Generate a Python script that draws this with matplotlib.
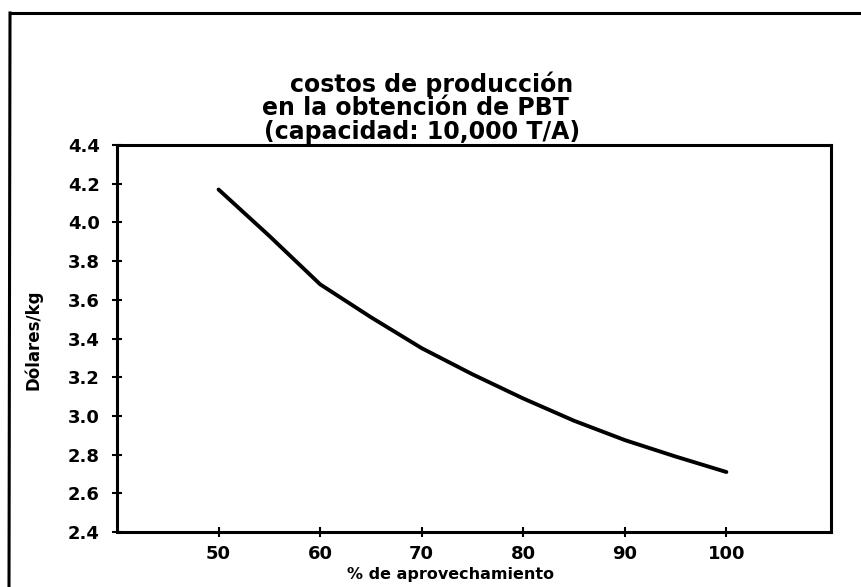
import matplotlib
matplotlib.use("Agg")
import matplotlib.pyplot as plt
from matplotlib.lines import Line2D

# Production cost vs. utilisation
aprovechamiento = [50, 55, 60, 65, 70, 75, 80, 85, 90, 95, 100]
costo = [4.17, 3.93, 3.68, 3.51, 3.35, 3.215, 3.09, 2.975, 2.875, 2.79, 2.71]

x_ticks = [50, 60, 70, 80, 90, 100]
y_ticks = [2.4, 2.6, 2.8, 3.0, 3.2, 3.4, 3.6, 3.8, 4.0, 4.2, 4.4]

titulo = ["costos de producción", "en la obtención de PBT", "(capacidad: 10,000 T/A)"]
etiqueta_x = "% de aprovechamiento"
etiqueta_y = "Dólares/kg"

plt.rcParams["font.family"] = ["DejaVu Sans"]
plt.rcParams["font.weight"] = "bold"

W, H = 861, 587
fig = plt.figure(figsize=(W / 100, H / 100), dpi=100)
fig.patch.set_facecolor("white")

# plot area in pixel terms
left, right, top, bottom = 117, 831, 145, 532
ax = fig.add_axes([left / W, 1 - bottom / H, (right - left) / W, (bottom - top) / H])

ax.plot(aprovechamiento, costo, color="black", linewidth=2.8,
        solid_capstyle="round", solid_joinstyle="round")

ax.set_xlim(40, 110.3)
ax.set_ylim(2.4, 4.4)
ax.set_xticks(x_ticks)
ax.set_yticks(y_ticks)
ax.set_xticklabels([str(v) for v in x_ticks])
ax.set_yticklabels([f"{v:.1f}" for v in y_ticks])
ax.tick_params(direction="inout", length=7, width=1.5, colors="black",
               labelsize=13)
ax.tick_params(axis="x", pad=6)
ax.tick_params(axis="y", pad=9)
for lab in ax.get_xticklabels() + ax.get_yticklabels():
    lab.set_fontweight("bold")
for sp in ax.spines.values():
    sp.set_linewidth(2.2)
    sp.set_color("black")

# three-line title, centred above the plot area
for txt, xc, yc in zip(titulo, [432, 415, 422], [84, 108, 132]):
    fig.text(xc / W, 1 - yc / H, txt, ha="center", va="center",
             fontsize=17, fontweight="bold")
fig.text(451 / W, 1 - 574 / H, etiqueta_x, ha="center", va="center",
         fontsize=11.5, fontweight="bold")
fig.text(33 / W, 1 - 340 / H, etiqueta_y, ha="center", va="center",
         rotation=90, fontsize=12, fontweight="bold")

# outer frame
fig.add_artist(Line2D([10 / W, 1.0], [1 - 13 / H, 1 - 13 / H],
                      transform=fig.transFigure, color="black", linewidth=2.2))
fig.add_artist(Line2D([10 / W, 9 / W], [1 - 13 / H, 0.0],
                      transform=fig.transFigure, color="black", linewidth=2.2))

fig.savefig("out.png", dpi=100, facecolor="white")
